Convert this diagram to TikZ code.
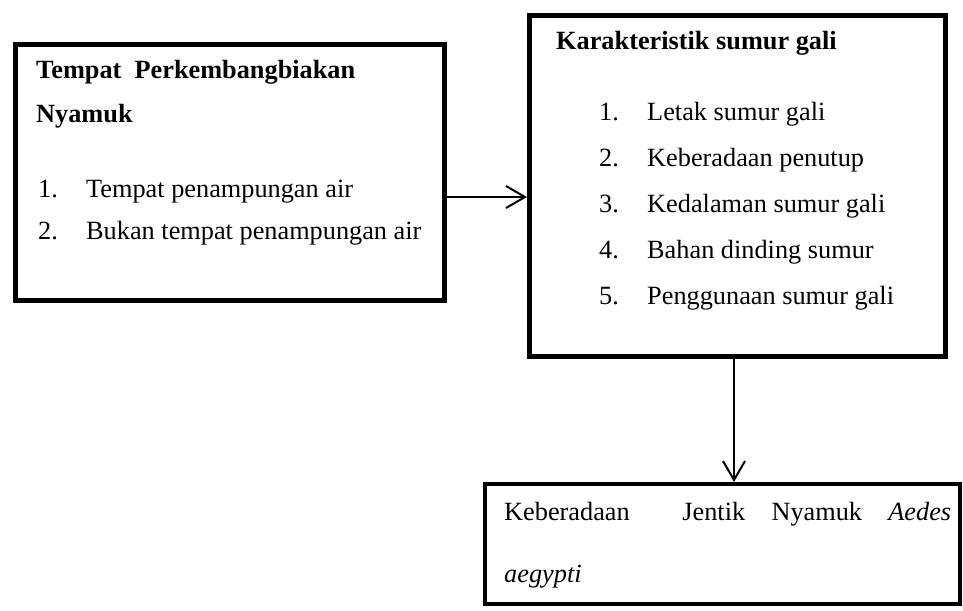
\documentclass[tikz,border=0pt]{standalone}
\usepackage{fontspec}
\setmainfont{Liberation Serif}
\usetikzlibrary{arrows.meta}

\tikzset{
  kotak/.style={draw, line width=5pt, anchor=north west, inner sep=0pt},
  teks/.style={anchor=base west, inner sep=0pt, font=\fontsize{26.3}{30}\selectfont},
  panah/.style={-{Straight Barb[length=19pt, width=22pt]}, line width=2pt},
}
\newcommand{\butir}[2]{\makebox[48pt][l]{#1}#2}

\begin{document}
\begin{tikzpicture}[x=1pt, y=-1pt]
  \useasboundingbox (0,0) rectangle (963,610);

  % Kotak-kotak
  \node[kotak, minimum width=429pt, minimum height=256pt] (tempat) at (13,42) {};
  \node[kotak, minimum width=416pt, minimum height=341pt] (karakter) at (527,13) {};
  \node[kotak, line width=4pt, minimum width=475pt, minimum height=120pt] (jentik) at (483,482) {};

  % Isi kotak tempat perkembangbiakan
  \node[teks] (judul1a) at (36,78) {\textbf{Tempat\ \ Perkembangbiakan}};
  \node[teks] (judul1b) at (36,122) {\textbf{Nyamuk}};
  \node[teks] (tp1) at (38,197) {\butir{1.}{Tempat penampungan air}};
  \node[teks] (tp2) at (38,239) {\butir{2.}{Bukan tempat penampungan air}};

  % Isi kotak karakteristik
  \node[teks] (judul2) at (556,50) {\textbf{Karakteristik sumur gali}};
  \node[teks] (ks1) at (599,120) {\butir{1.}{Letak sumur gali}};
  \node[teks] (ks2) at (599,166) {\butir{2.}{Keberadaan penutup}};
  \node[teks] (ks3) at (599,212) {\butir{3.}{Kedalaman sumur gali}};
  \node[teks] (ks4) at (599,258) {\butir{4.}{Bahan dinding sumur}};
  \node[teks] (ks5) at (599,304) {\butir{5.}{Penggunaan sumur gali}};

  % Isi kotak keberadaan jentik
  \node[teks] (baris1) at (504,520) {\hbox to 447pt{Keberadaan\hfill\hfill Jentik\hfill Nyamuk\hfill \textit{Aedes}}};
  \node[teks] (baris2) at (504,582) {\textit{aegypti}};

  % Panah
  \coordinate (tinggi) at (0,197);
  \coordinate (turun) at (734,0);
  \draw[panah] (tempat.east |- tinggi) -- (karakter.west |- tinggi);
  \draw[panah] (karakter.south -| turun) -- (jentik.north -| turun);
\end{tikzpicture}
\end{document}
